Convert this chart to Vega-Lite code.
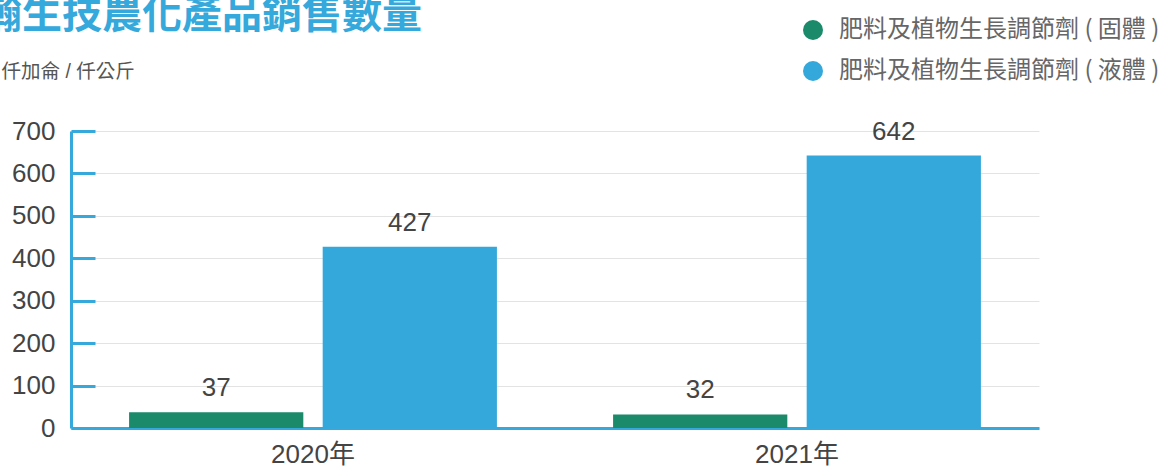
{
  "$schema": "https://vega.github.io/schema/vega-lite/v6.json",
  "autosize": {"type": "none"},
  "padding": {"left": 71, "top": 131, "right": 124, "bottom": 40},
  "width": 968,
  "height": 297,
  "background": "white",
  "config": {
    "font": "Liberation Sans, Noto Sans CJK TC, sans-serif",
    "view": {"stroke": null}
  },
  "title": {
    "text": "瀚生技農化產品銷售數量",
    "anchor": "start",
    "frame": "group",
    "fontSize": 40,
    "fontWeight": "bold",
    "color": "#35a8dc",
    "font": "Noto Sans CJK TC",
    "dx": -89,
    "dy": 50,
    "baseline": "alphabetic",
    "offset": 0
  },
  "data": {
    "values": [
      {"year": "2020年", "type": "肥料及植物生長調節劑 ( 固體 )", "value": 37},
      {"year": "2020年", "type": "肥料及植物生長調節劑 ( 液體 )", "value": 427},
      {"year": "2021年", "type": "肥料及植物生長調節劑 ( 固體 )", "value": 32},
      {"year": "2021年", "type": "肥料及植物生長調節劑 ( 液體 )", "value": 642}
    ]
  },
  "encoding": {
    "x": {
      "field": "year",
      "type": "nominal",
      "scale": {"paddingInner": 0.24, "paddingOuter": 0.12},
      "axis": {
        "title": null,
        "labelAngle": 0,
        "labelFontSize": 26,
        "labelColor": "#444444",
        "labelPadding": 13,
        "ticks": false,
        "domainColor": "#35a8dc",
        "domainWidth": 3,
        "grid": false
      }
    },
    "xOffset": {
      "field": "type",
      "type": "nominal",
      "scale": {"paddingInner": 0.1, "paddingOuter": 0}
    },
    "y": {
      "field": "value",
      "type": "quantitative",
      "scale": {"domain": [0, 700]},
      "axis": {
        "values": [0, 100, 200, 300, 400, 500, 600, 700],
        "title": "仟加侖 / 仟公斤",
        "titleAngle": 0,
        "titleAlign": "left",
        "titleBaseline": "alphabetic",
        "titleX": -70,
        "titleY": -54,
        "titleFontSize": 19.5,
        "titleFontWeight": "normal",
        "titleColor": "#555555",
        "labelFontSize": 26,
        "labelColor": "#444444",
        "labelPadding": 40,
        "tickSize": -24,
        "tickWidth": 3,
        "tickColor": "#35a8dc",
        "domainColor": "#35a8dc",
        "domainWidth": 3,
        "gridColor": "#e3e3e3",
        "gridWidth": 1
      }
    }
  },
  "layer": [
    {
      "mark": {"type": "bar"},
      "encoding": {
        "color": {
          "field": "type",
          "type": "nominal",
          "scale": {"range": ["#1a8a6b", "#34a8db"]},
          "legend": {
            "title": null,
            "orient": "none",
            "legendX": 730,
            "legendY": -113,
            "symbolType": "circle",
            "symbolSize": 400,
            "symbolStrokeWidth": 0,
            "symbolOpacity": 1,
            "labelFont": "Noto Sans CJK TC",
            "labelFontSize": 24,
            "labelColor": "#666666",
            "labelOffset": 14,
            "rowPadding": 17,
            "labelLimit": 0,
            "padding": 0
          }
        }
      }
    },
    {
      "mark": {"type": "text", "fontSize": 26, "color": "#444444", "baseline": "alphabetic", "dy": -16},
      "encoding": {
        "text": {"field": "value", "type": "quantitative"}
      }
    }
  ]
}
